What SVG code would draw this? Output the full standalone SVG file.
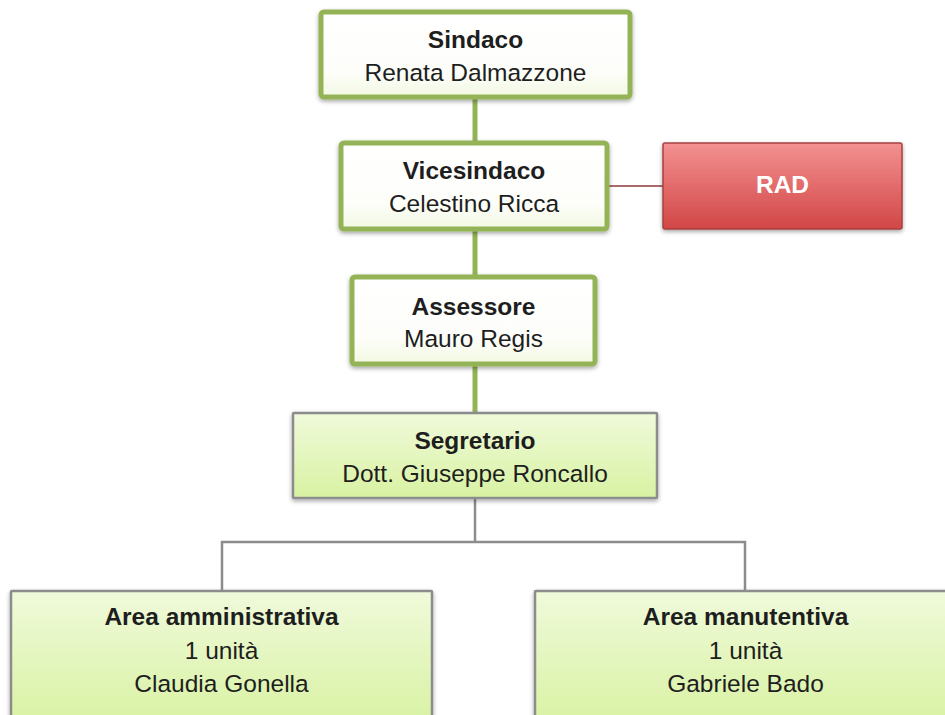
<svg xmlns="http://www.w3.org/2000/svg" width="945" height="715" viewBox="0 0 945 715">
  <defs>
    <linearGradient id="gWhite" x1="0" y1="0" x2="0" y2="1">
      <stop offset="0" stop-color="#ffffff"/>
      <stop offset="0.7" stop-color="#fdfefa"/>
      <stop offset="1" stop-color="#f2f8e2"/>
    </linearGradient>
    <linearGradient id="gGreen" x1="0" y1="0" x2="0" y2="1">
      <stop offset="0" stop-color="#f0fadb"/>
      <stop offset="1" stop-color="#d8f2a2"/>
    </linearGradient>
    <linearGradient id="gRed" x1="0" y1="0" x2="0" y2="1">
      <stop offset="0" stop-color="#f39191"/>
      <stop offset="1" stop-color="#d24646"/>
    </linearGradient>
    <filter id="sh" x="-10%" y="-10%" width="120%" height="130%">
      <feDropShadow dx="0" dy="2" stdDeviation="2" flood-color="#000" flood-opacity="0.35"/>
    </filter>
  </defs>
  <style>
    text { font-family: "Liberation Sans", Arial, sans-serif; font-size: 24.5px; fill: #1e1e1e; text-anchor: middle; }
    .b { font-weight: bold; }
    .top { fill: url(#gWhite); stroke: #93b356; stroke-width: 5; filter: url(#sh); }
    .mid { fill: url(#gGreen); stroke: #8c8c8c; stroke-width: 2.5; filter: url(#sh); }
    .red { fill: url(#gRed); stroke: #a84040; stroke-width: 1.5; filter: url(#sh); }
    .gc { stroke: #93b356; stroke-width: 5; fill: none; }
    .gy { stroke: #8c8c8c; stroke-width: 2.5; fill: none; }
    .rc { stroke: #8b3a3a; stroke-width: 1.5; fill: none; }
    .w { fill: #ffffff; }
  </style>
  <g id="connectors">
    <line class="gc" x1="475" y1="97" x2="475" y2="143"/>
    <line class="gc" x1="475" y1="229" x2="475" y2="277"/>
    <line class="gc" x1="475" y1="364" x2="475" y2="413"/>
    <line class="rc" x1="607" y1="186" x2="663" y2="186"/>
    <polyline class="gy" points="475,498 475,542"/>
    <polyline class="gy" points="222,591 222,542 745,542 745,591"/>
  </g>
  <g id="sindaco">
    <rect class="top" x="321" y="12" width="309" height="85" rx="3"/>
    <text class="b" x="475.5" y="48">Sindaco</text>
    <text x="475.5" y="81">Renata Dalmazzone</text>
  </g>
  <g id="vicesindaco">
    <rect class="top" x="341" y="143" width="266" height="86" rx="3"/>
    <text class="b" x="474" y="179">Vicesindaco</text>
    <text x="474" y="212">Celestino Ricca</text>
  </g>
  <g id="rad">
    <rect class="red" x="663" y="143" width="239" height="86" rx="2"/>
    <text class="b w" x="782.5" y="193">RAD</text>
  </g>
  <g id="assessore">
    <rect class="top" x="352" y="277" width="243" height="87" rx="3"/>
    <text class="b" x="473.5" y="315">Assessore</text>
    <text x="473.5" y="347">Mauro Regis</text>
  </g>
  <g id="segretario">
    <rect class="mid" x="293" y="413" width="364" height="85" rx="1"/>
    <text class="b" x="475" y="449">Segretario</text>
    <text x="475" y="482">Dott. Giuseppe Roncallo</text>
  </g>
  <g id="area-amministrativa">
    <rect class="mid" x="11" y="591" width="421" height="135" rx="1"/>
    <text class="b" x="221.5" y="625">Area amministrativa</text>
    <text x="221.5" y="659">1 unità</text>
    <text x="221.5" y="692">Claudia Gonella</text>
  </g>
  <g id="area-manutentiva">
    <rect class="mid" x="535" y="591" width="421" height="135" rx="1"/>
    <text class="b" x="745.5" y="625">Area manutentiva</text>
    <text x="745.5" y="659">1 unità</text>
    <text x="745.5" y="692">Gabriele Bado</text>
  </g>
</svg>
